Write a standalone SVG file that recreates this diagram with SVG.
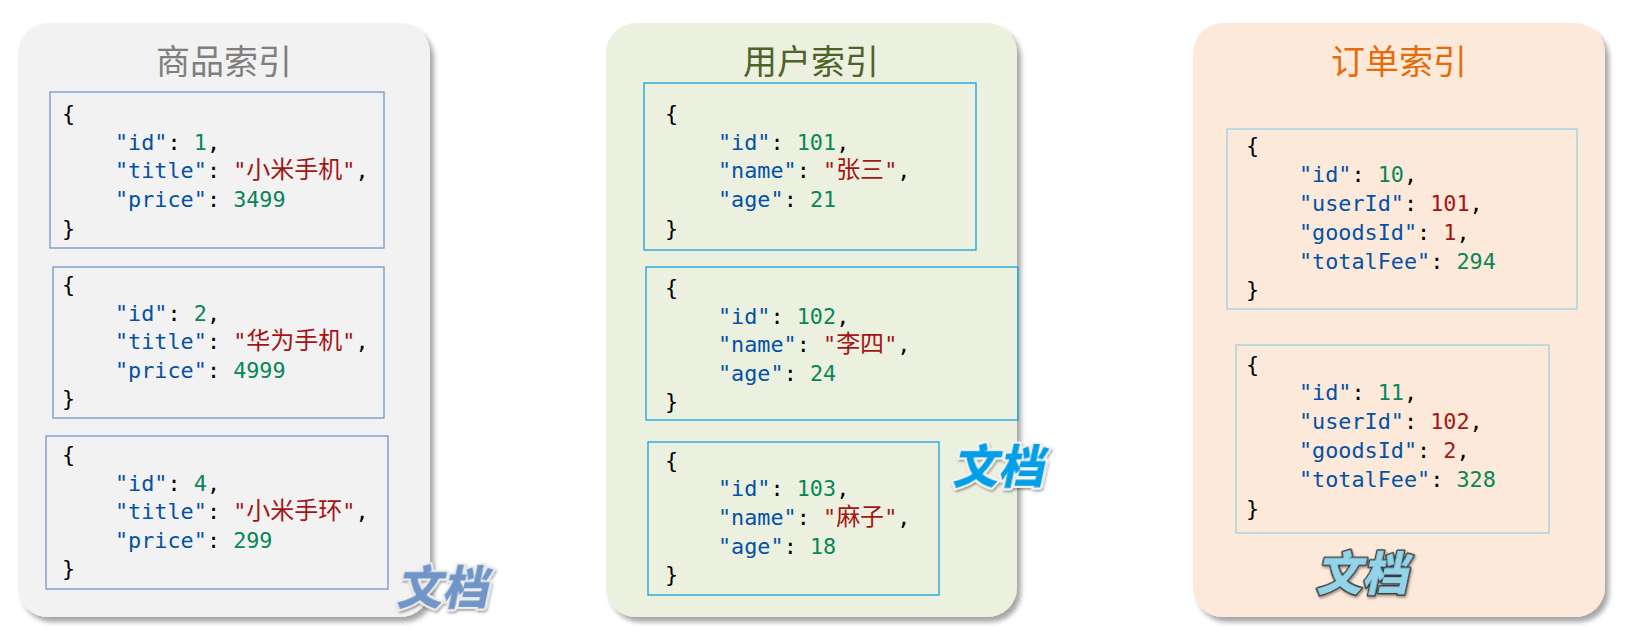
<svg xmlns="http://www.w3.org/2000/svg" width="1642" height="640" viewBox="0 0 1642 640">
<defs>
<filter id="sh" x="-5%" y="-5%" width="112%" height="112%">
<feDropShadow dx="4" dy="5" stdDeviation="2.5" flood-color="#000" flood-opacity="0.35"/>
</filter>
<filter id="lsh" x="-10%" y="-10%" width="130%" height="130%">
<feDropShadow dx="1.5" dy="2" stdDeviation="1.2" flood-color="#000" flood-opacity="0.35"/>
</filter>
</defs>
<style>
.mono{font-family:"DejaVu Sans Mono","Liberation Mono",monospace;font-size:21.8px;fill:#000}
.k{fill:#0451a5}
.n{fill:#098658}
.r{fill:#a31515}
.s{fill:#a31515;font-family:"Noto Sans CJK SC",sans-serif;font-size:24px}
.title{font-family:"Noto Sans CJK SC",sans-serif;font-size:34px;text-anchor:middle}
.lbl{font-family:"Noto Sans CJK SC",sans-serif;font-size:46px;font-weight:900;paint-order:stroke;stroke-linejoin:round}
.b1{fill:none;stroke:#7096cc;stroke-width:1.3}
.b2{fill:none;stroke:#11a3e0;stroke-width:1.3}
.b3{fill:none;stroke:#9bd3e6;stroke-width:1.3}
</style>

<g id="goods-index">
<rect x="18" y="23" width="412" height="594" rx="30" fill="#f2f2f2" filter="url(#sh)"/>
<text class="title" x="224" y="74" fill="#7f7f7f">商品索引</text>
<g id="goods-doc-1">
<rect class="b1" x="50" y="92" width="334" height="156"/>
<text class="mono" x="62" y="121">{</text>
<text class="mono" x="115" y="149.5"><tspan class="k">"id"</tspan>: <tspan class="n">1</tspan>,</text>
<text class="mono" x="115" y="178"><tspan class="k">"title"</tspan>: <tspan class="r">"</tspan><tspan class="s">小米手机</tspan><tspan class="r">"</tspan>,</text>
<text class="mono" x="115" y="207"><tspan class="k">"price"</tspan>: <tspan class="n">3499</tspan></text>
<text class="mono" x="62" y="235.5">}</text>
</g>
<g id="goods-doc-2">
<rect class="b1" x="53" y="267" width="331" height="151"/>
<text class="mono" x="62" y="292">{</text>
<text class="mono" x="115" y="320.5"><tspan class="k">"id"</tspan>: <tspan class="n">2</tspan>,</text>
<text class="mono" x="115" y="349"><tspan class="k">"title"</tspan>: <tspan class="r">"</tspan><tspan class="s">华为手机</tspan><tspan class="r">"</tspan>,</text>
<text class="mono" x="115" y="377.5"><tspan class="k">"price"</tspan>: <tspan class="n">4999</tspan></text>
<text class="mono" x="62" y="406">}</text>
</g>
<g id="goods-doc-4">
<rect class="b1" x="46" y="436" width="342" height="153"/>
<text class="mono" x="62" y="462">{</text>
<text class="mono" x="115" y="490.5"><tspan class="k">"id"</tspan>: <tspan class="n">4</tspan>,</text>
<text class="mono" x="115" y="519"><tspan class="k">"title"</tspan>: <tspan class="r">"</tspan><tspan class="s">小米手环</tspan><tspan class="r">"</tspan>,</text>
<text class="mono" x="115" y="547.5"><tspan class="k">"price"</tspan>: <tspan class="n">299</tspan></text>
<text class="mono" x="62" y="576">}</text>
</g>
<text class="lbl" transform="translate(396,604) skewX(-12)" fill="#7096c9" stroke="#ececec" stroke-width="4" filter="url(#lsh)">文档</text>
</g>

<g id="user-index">
<rect x="606" y="23" width="411" height="594" rx="30" fill="#ebf1de" filter="url(#sh)"/>
<text class="title" x="811" y="74" fill="#4f6228">用户索引</text>
<g id="user-doc-101">
<rect class="b2" x="644" y="83" width="332" height="167"/>
<text class="mono" x="665" y="121">{</text>
<text class="mono" x="718" y="149.5"><tspan class="k">"id"</tspan>: <tspan class="n">101</tspan>,</text>
<text class="mono" x="718" y="178"><tspan class="k">"name"</tspan>: <tspan class="r">"</tspan><tspan class="s">张三</tspan><tspan class="r">"</tspan>,</text>
<text class="mono" x="718" y="207"><tspan class="k">"age"</tspan>: <tspan class="n">21</tspan></text>
<text class="mono" x="665" y="235.5">}</text>
</g>
<g id="user-doc-102">
<rect class="b2" x="646" y="267" width="372" height="153"/>
<text class="mono" x="665" y="295">{</text>
<text class="mono" x="718" y="323.5"><tspan class="k">"id"</tspan>: <tspan class="n">102</tspan>,</text>
<text class="mono" x="718" y="352"><tspan class="k">"name"</tspan>: <tspan class="r">"</tspan><tspan class="s">李四</tspan><tspan class="r">"</tspan>,</text>
<text class="mono" x="718" y="380.5"><tspan class="k">"age"</tspan>: <tspan class="n">24</tspan></text>
<text class="mono" x="665" y="409">}</text>
</g>
<g id="user-doc-103">
<rect class="b2" x="648" y="442" width="291" height="153"/>
<text class="mono" x="665" y="467.5">{</text>
<text class="mono" x="718" y="496"><tspan class="k">"id"</tspan>: <tspan class="n">103</tspan>,</text>
<text class="mono" x="718" y="525"><tspan class="k">"name"</tspan>: <tspan class="r">"</tspan><tspan class="s">麻子</tspan><tspan class="r">"</tspan>,</text>
<text class="mono" x="718" y="553.5"><tspan class="k">"age"</tspan>: <tspan class="n">18</tspan></text>
<text class="mono" x="665" y="582">}</text>
</g>
<text class="lbl" transform="translate(952,483) skewX(-12)" fill="#00a0e9" stroke="#f4f4f4" stroke-width="4" filter="url(#lsh)">文档</text>
</g>

<g id="order-index">
<rect x="1193" y="23" width="412" height="594" rx="30" fill="#fde9d9" filter="url(#sh)"/>
<text class="title" x="1399" y="74" fill="#e46c0a">订单索引</text>
<g id="order-doc-10">
<rect class="b3" x="1227" y="129" width="350" height="180"/>
<text class="mono" x="1246" y="153">{</text>
<text class="mono" x="1299" y="181.5"><tspan class="k">"id"</tspan>: <tspan class="n">10</tspan>,</text>
<text class="mono" x="1299" y="210.5"><tspan class="k">"userId"</tspan>: <tspan class="r">101</tspan>,</text>
<text class="mono" x="1299" y="239.5"><tspan class="k">"goodsId"</tspan>: <tspan class="r">1</tspan>,</text>
<text class="mono" x="1299" y="268.5"><tspan class="k">"totalFee"</tspan>: <tspan class="n">294</tspan></text>
<text class="mono" x="1246" y="297">}</text>
</g>
<g id="order-doc-11">
<rect class="b3" x="1236" y="345" width="313" height="188"/>
<text class="mono" x="1246" y="371.5">{</text>
<text class="mono" x="1299" y="400"><tspan class="k">"id"</tspan>: <tspan class="n">11</tspan>,</text>
<text class="mono" x="1299" y="429"><tspan class="k">"userId"</tspan>: <tspan class="r">102</tspan>,</text>
<text class="mono" x="1299" y="458"><tspan class="k">"goodsId"</tspan>: <tspan class="r">2</tspan>,</text>
<text class="mono" x="1299" y="487"><tspan class="k">"totalFee"</tspan>: <tspan class="n">328</tspan></text>
<text class="mono" x="1246" y="515.5">}</text>
</g>
<text class="lbl" transform="translate(1316,590) skewX(-12)" fill="#93d4e9" stroke="#3a3a3a" stroke-width="3" filter="url(#lsh)">文档</text>
</g>

<g id="connectors"></g>
</svg>
